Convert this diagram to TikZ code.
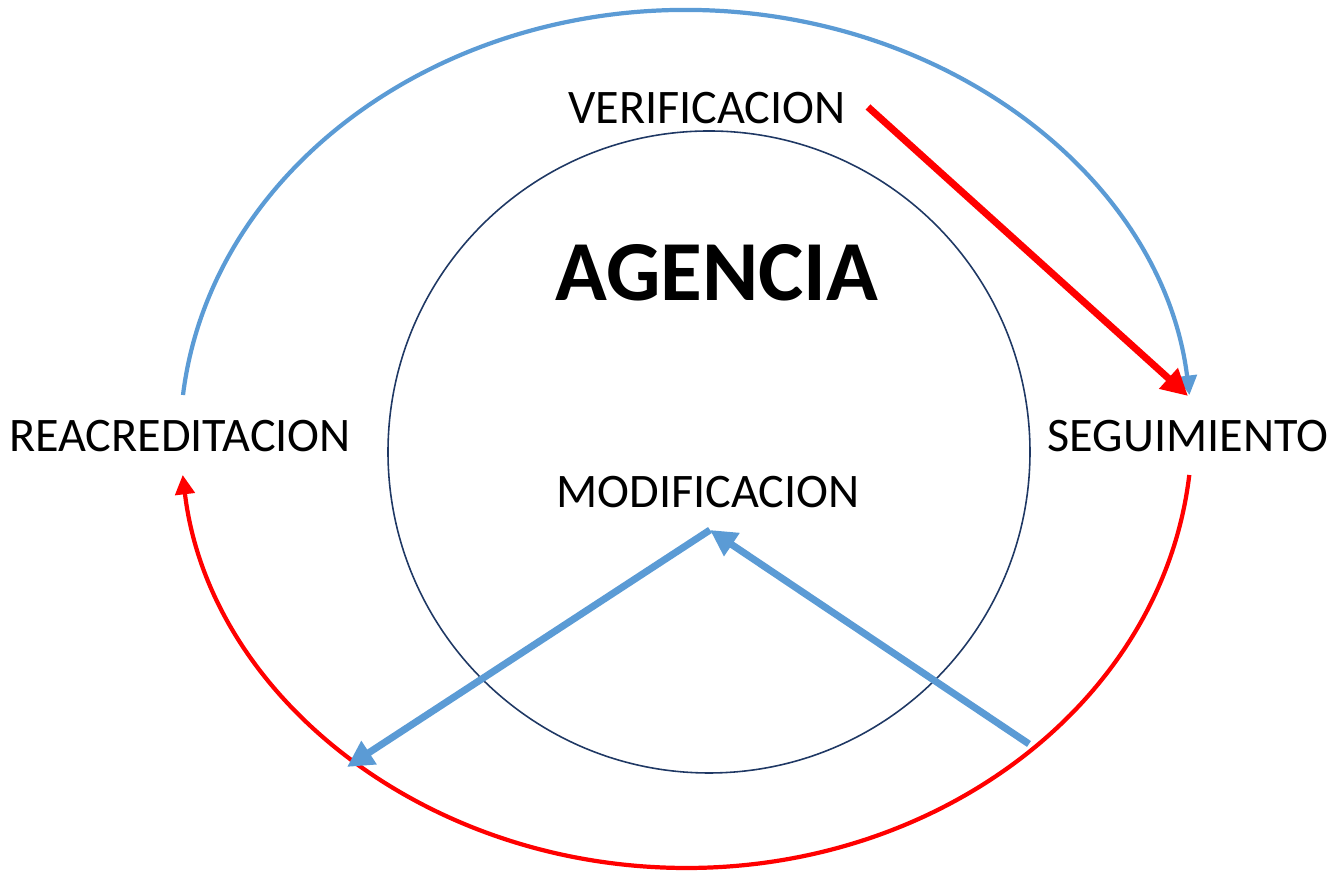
\documentclass[tikz,border=0pt]{standalone}
\usepackage{fontspec}
\setmainfont{Carlito}
\usetikzlibrary{arrows.meta}
\definecolor{cblue}{HTML}{5B9BD5}
\definecolor{cred}{HTML}{FF0000}
\definecolor{cnavy}{HTML}{1F3864}
\tikzset{
  lbl/.style={font=\fontsize{13.7pt}{16pt}\selectfont, inner sep=0pt, text=black},
  thinarc/.style={line width=1.2pt},
  thickarrow/.style={line width=2pt, -{Triangle[length=7.5pt,width=7.5pt]}},
  arctip/.style={-{Triangle[length=5.5pt,width=5.5pt]}}
}
\begin{document}
\begin{tikzpicture}[x=0.01cm,y=-0.01cm]
\useasboundingbox (0,0) rectangle (1332,874);
% inner circle
\node[draw=cnavy, line width=0.45pt, circle, minimum size=642*0.01cm, inner sep=0pt] (circ) at (709,452) {};
% labels
\node[font=\fontsize{24.3pt}{29pt}\selectfont\bfseries, inner sep=0pt] (agencia) at (717,273) {AGENCIA};
\node[lbl] (verif) at (707,108) {VERIFICACION};
\node[lbl] (reacr) at (180,436) {REACREDITACION};
\node[lbl] (segui) at (1188,436) {SEGUIMIENTO};
\node[lbl] (modif) at (708,492) {MODIFICACION};
% coordinates
\coordinate (bstart) at (183,395);
\coordinate (rstart) at (1189.3,475);
\coordinate (vtail) at (868,107);
\coordinate (stip) at (1188,396);
\coordinate (mtop) at (710,530);
\coordinate (lleft) at (347,767);
\coordinate (rright) at (1029,744);
% blue outer arc
\draw[cblue, thinarc, arctip] (bstart) arc[start angle=186, end angle=354, x radius=506, y radius=430];
% red outer arc
\draw[cred, thinarc, arctip] (rstart) arc[start angle=5.9, end angle=174.1, x radius=506, y radius=438];
% red straight arrow
\draw[cred, thickarrow] (vtail) -- (stip);
% blue straight arrows
\draw[cblue, thickarrow] (mtop) -- (lleft);
\draw[cblue, thickarrow] (rright) -- (mtop);
\end{tikzpicture}
\end{document}
